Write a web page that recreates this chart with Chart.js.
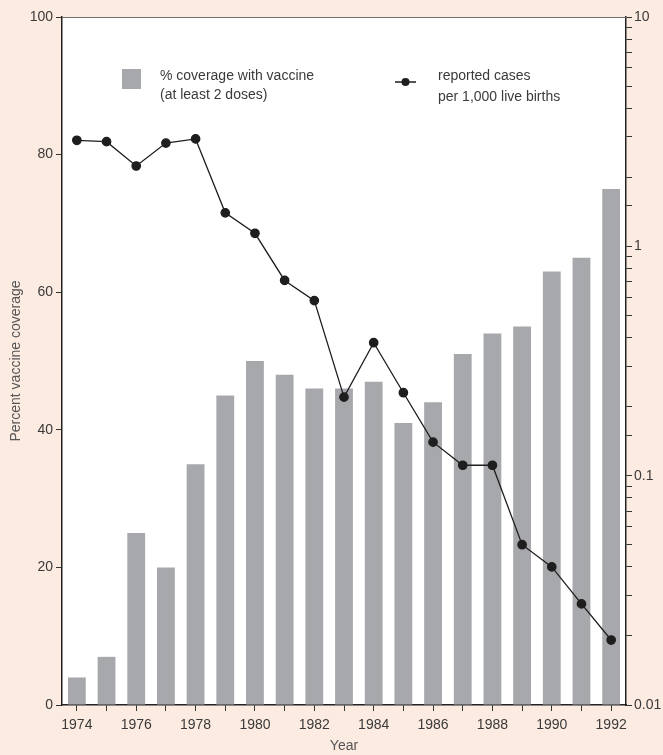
<!DOCTYPE html>
<html>
<head>
<meta charset="utf-8">
<script src="https://cdn.jsdelivr.net/npm/chart.js@4/dist/chart.umd.min.js"></script>
<style>
  html, body { margin: 0; padding: 0; background: #fcebe1; }
  #wrap { width: 663px; height: 755px; }
</style>
</head>
<body>
<div id="wrap"><canvas id="chart"></canvas></div>
<script>
const years = ['1974','1975','1976','1977','1978','1979','1980','1981','1982','1983',
               '1984','1985','1986','1987','1988','1989','1990','1991','1992'];
const coverage = [4, 7, 25, 20, 35, 45, 50, 48, 46, 46, 47, 41, 44, 51, 54, 55, 63, 65, 75];
const cases = [2.9, 2.86, 2.24, 2.82, 2.94, 1.4, 1.14, 0.71, 0.58, 0.22,
               0.38, 0.23, 0.14, 0.111, 0.111, 0.05, 0.04, 0.0276, 0.0192];
const leftTicks = [0, 20, 40, 60, 80, 100];
const rightMajor = [0.01, 0.1, 1, 10];
const coverageLabel = ['% coverage with vaccine', '(at least 2 doses)'];
const casesLabel = ['reported cases', 'per 1,000 live births'];

const FONT = '"Liberation Sans Narrow", "Liberation Sans", Arial, sans-serif';
const TEXT = '#3a3a3a';
const BAR = '#a7a8ab';
const LINE = '#1e1e1e';

Chart.defaults.font.family = FONT;
Chart.defaults.color = TEXT;

// white plot area and top frame line
const plotBg = {
  id: 'plotBg',
  beforeDraw(chart) {
    const { ctx, chartArea: a } = chart;
    ctx.save();
    ctx.fillStyle = '#ffffff';
    ctx.fillRect(a.left, a.top, a.right - a.left, a.bottom - a.top);
    ctx.restore();
  },
  afterDraw(chart) {
    const { ctx, chartArea: a } = chart;
    ctx.save();
    ctx.strokeStyle = '#6e6e6e';
    ctx.lineWidth = 1;
    ctx.beginPath();
    ctx.moveTo(a.left, a.top + 0.5);
    ctx.lineTo(a.right, a.top + 0.5);
    ctx.stroke();
    ctx.restore();
  }
};

// legend drawn inside the plot
const innerLegend = {
  id: 'innerLegend',
  afterDraw(chart) {
    const { ctx } = chart;
    ctx.save();
    ctx.font = '14px ' + FONT;
    ctx.textBaseline = 'middle';
    ctx.textAlign = 'left';

    ctx.fillStyle = BAR;
    ctx.fillRect(122, 69, 19, 20);
    ctx.fillStyle = TEXT;
    coverageLabel.forEach((t, i) => ctx.fillText(t, 160, 76 + i * 19));

    ctx.strokeStyle = LINE;
    ctx.lineWidth = 1.5;
    ctx.beginPath();
    ctx.moveTo(395, 82);
    ctx.lineTo(416, 82);
    ctx.stroke();
    ctx.fillStyle = LINE;
    ctx.beginPath();
    ctx.arc(405.5, 82, 4, 0, Math.PI * 2);
    ctx.fill();
    ctx.fillStyle = TEXT;
    casesLabel.forEach((t, i) => ctx.fillText(t, 438, 76 + i * 21));
    ctx.restore();
  }
};

new Chart(document.getElementById('chart'), {
  type: 'bar',
  data: {
    labels: years,
    datasets: [
      {
        type: 'line',
        label: casesLabel.join(' '),
        data: cases,
        yAxisID: 'yR',
        borderColor: LINE,
        borderWidth: 1.3,
        pointBackgroundColor: LINE,
        pointBorderColor: LINE,
        pointRadius: 4.2,
        tension: 0,
        order: 0
      },
      {
        type: 'bar',
        label: coverageLabel.join(' '),
        data: coverage,
        yAxisID: 'y',
        backgroundColor: BAR,
        categoryPercentage: 1,
        barPercentage: 0.6,
        order: 1
      }
    ]
  },
  options: {
    responsive: true,
    maintainAspectRatio: false,
    animation: false,
    layout: { padding: { top: 17, left: 0, right: 0, bottom: 0 } },
    plugins: { legend: { display: false }, tooltip: { enabled: false } },
    scales: {
      x: {
        offset: true,
        grid: { offset: false, drawOnChartArea: false, drawTicks: true, tickLength: 6, color: '#333' },
        border: { color: '#222', width: 1.5 },
        ticks: {
          autoSkip: false, maxRotation: 0, font: { size: 14 }, padding: 6,
          callback: (v, i) => (i % 2 === 0 ? years[i] : '')
        },
        title: { display: true, text: 'Year', font: { size: 14 }, color: '#555', padding: { top: 0, bottom: 0 } },
        afterFit: s => { s.height = 50; }
      },
      y: {
        position: 'left',
        min: 0, max: 100,
        afterBuildTicks: s => { s.ticks = leftTicks.map(v => ({ value: v })); },
        grid: { drawOnChartArea: false, drawTicks: true, tickLength: 6, color: '#333' },
        border: { color: '#222', width: 1.5 },
        ticks: { font: { size: 14 }, padding: 3 },
        title: { display: true, text: 'Percent vaccine coverage', font: { size: 14 }, color: '#555', padding: { top: 8, bottom: 0 } },
        afterFit: s => { s.width = 62; }
      },
      yR: {
        type: 'logarithmic',
        position: 'right',
        min: 0.01, max: 10,
        grid: { drawOnChartArea: false, drawTicks: true, tickLength: 6, color: '#333' },
        border: { color: '#222', width: 1.5 },
        ticks: {
          font: { size: 14 }, padding: 2, autoSkip: false,
          callback: v => (rightMajor.some(m => Math.abs(m - v) < m * 1e-6) ? String(v) : '')
        },
        afterFit: s => { s.width = 37; }
      }
    }
  },
  plugins: [plotBg, innerLegend]
});
</script>
</body>
</html>
